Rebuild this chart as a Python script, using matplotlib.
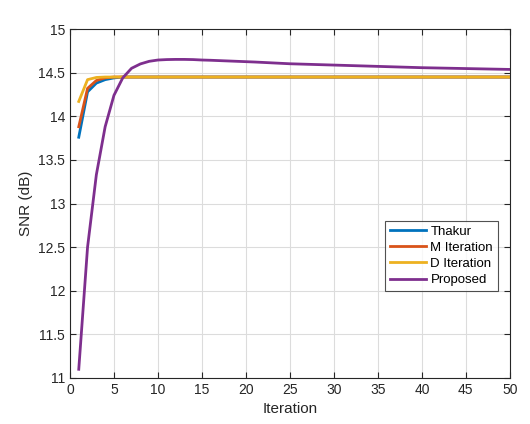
import matplotlib
matplotlib.use("Agg")
import matplotlib.pyplot as plt
import numpy as np

plt.rcParams['font.family'] = ['Liberation Sans', 'DejaVu Sans']

iterations = list(range(1, 51))

thakur_head = [13.76, 14.28, 14.38, 14.42, 14.44, 14.45]
m_head = [13.88, 14.32, 14.41, 14.44, 14.45]
d_head = [14.17, 14.42, 14.445, 14.45]
steady = 14.45
thakur = thakur_head + [steady] * (50 - len(thakur_head))
m_iter = m_head + [steady] * (50 - len(m_head))
d_iter = d_head + [steady] * (50 - len(d_head))

proposed = [11.10, 12.50, 13.33, 13.88, 14.24, 14.44, 14.55, 14.60, 14.63, 14.645,
            14.65, 14.652, 14.652, 14.65, 14.645, 14.642, 14.638, 14.634, 14.630, 14.626,
            14.622, 14.617, 14.612, 14.607, 14.602, 14.599, 14.596, 14.593, 14.590, 14.587,
            14.584, 14.581, 14.578, 14.575, 14.572, 14.569, 14.566, 14.563, 14.560, 14.557,
            14.555, 14.553, 14.551, 14.549, 14.547, 14.545, 14.543, 14.541, 14.539, 14.537]

x_ticks = list(range(0, 51, 5))
y_ticks = [11, 11.5, 12, 12.5, 13, 13.5, 14, 14.5, 15]
y_labels = ['11', '11.5', '12', '12.5', '13', '13.5', '14', '14.5', '15']

fig = plt.figure(figsize=(5.3, 4.24), dpi=100)
ax = fig.add_axes([0.132, 0.1085, 0.830, 0.823])

ax.plot(iterations, thakur, color='#0072BD', lw=2, label='Thakur')
ax.plot(iterations, m_iter, color='#D95319', lw=2, label='M Iteration')
ax.plot(iterations, d_iter, color='#EDB120', lw=2, label='D Iteration')
ax.plot(iterations, proposed, color='#7E2F8E', lw=2, label='Proposed')

ax.set_xlim(0, 50)
ax.set_ylim(11, 15)
ax.set_xticks(x_ticks)
ax.set_yticks(y_ticks)
ax.set_yticklabels(y_labels)
ax.grid(True, color='#dcdcdc', lw=0.8)
ax.set_axisbelow(True)
ax.tick_params(direction='in', top=True, right=True, labelsize=10, length=4, width=0.8, colors='#262626')
for s in ax.spines.values():
    s.set_color('#262626')
    s.set_linewidth(0.8)
ax.set_xlabel('Iteration', fontsize=11, color='#262626')
ax.set_ylabel('SNR (dB)', fontsize=11, color='#262626')

leg = ax.legend(loc='lower left', bbox_to_anchor=(0.716, 0.25), fontsize=9.5, frameon=True,
                fancybox=False, edgecolor='#262626', borderpad=0.35, handlelength=2.8,
                handletextpad=0.3, labelspacing=0.3, borderaxespad=0)
leg.get_frame().set_linewidth(0.8)

fig.savefig('out.png', dpi=100)
